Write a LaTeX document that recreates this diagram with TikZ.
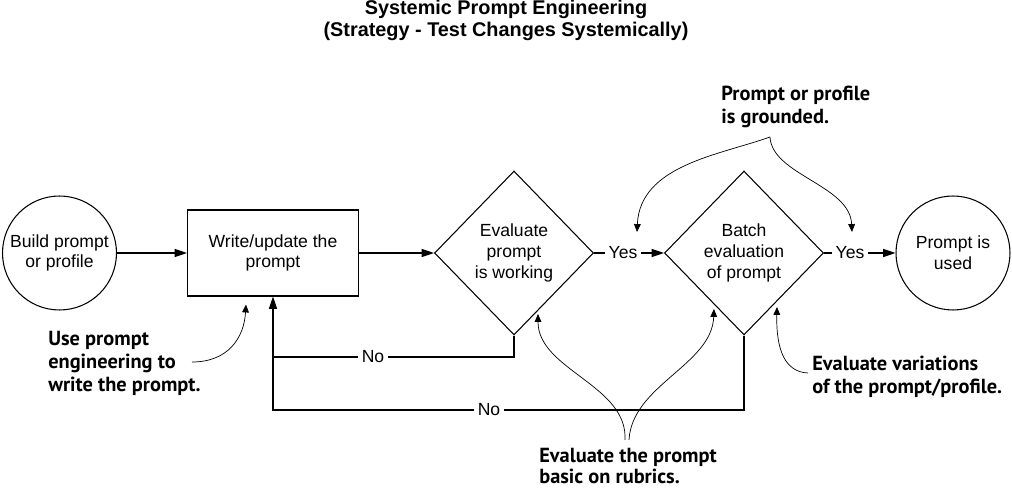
\documentclass[tikz,border=0pt]{standalone}
\usepackage{fontspec}
\setmainfont{Liberation Sans}
\newfontfamily\calloutfont{PT Sans}
\usetikzlibrary{positioning, arrows.meta, shapes.geometric, calc}

\begin{document}
\begin{tikzpicture}[
  x=0.02cm, y=-0.02cm,
  flow/.style={draw, semithick, font=\fontsize{10}{11.8}\selectfont, align=center},
  terminal/.style={flow, circle, minimum size=2.28cm, inner sep=0pt},
  process/.style={flow, rectangle, minimum width=3.42cm, minimum height=1.72cm},
  decision/.style={flow, diamond, minimum width=3.18cm, minimum height=3.28cm, inner sep=0pt},
  answer/.style={font=\fontsize{10}{11.8}\selectfont, inner sep=2pt},
  link/.style={semithick, -{Triangle[length=7pt, width=4.6pt]}},
  callout/.style={font=\calloutfont\bfseries\fontsize{11.6}{13}\selectfont,
                  align=left, anchor=north west, inner sep=0pt},
  pointer/.style={thin, -{Triangle[length=4.5pt, width=3.8pt]}},
]
  \useasboundingbox (0,0) rectangle (1012,489);

  \node[font=\bfseries\fontsize{11.3}{12.5}\selectfont, align=center] (title) at (506,20)
    {Systemic Prompt Engineering\\(Strategy - Test Changes Systemically)};

  \node[terminal] (build) at (59.5,253) {Build prompt\\or profile};
  \node[process] (write) at (273,253) {Write/update the\\prompt};
  \node[decision] (eval) at (514,253) {Evaluate\\prompt\\is working};
  \node[decision] (batch) at (744,253) {Batch\\evaluation\\of prompt};
  \node[terminal] (used) at (953,253) {Prompt is\\used};

  \node[answer] (yes1) at (623,253) {Yes};
  \node[answer] (yes2) at (850,253) {Yes};
  \node[answer] (no1) at (373,357) {No};
  \node[answer] (no2) at (489,410) {No};

  \draw[link] (build) -- (write);
  \draw[link] (write) -- (eval);
  \draw[semithick] (eval.east) -- (yes1);
  \draw[link] (yes1) -- (batch);
  \draw[semithick] (batch.east) -- (yes2);
  \draw[link] (yes2) -- (used);

  \coordinate (join) at (write.south |- no1);
  \draw[semithick] (eval.south) |- (no1);
  \draw[semithick] (no1) -- (join);
  \draw[semithick] (batch.south) |- (no2);
  \draw[link] (no2) -| (write.south);

  \node[callout] (usenote) at (48,331) {Use prompt\\engineering to\\write the prompt.};
  \node[callout] (groundnote) at (721,86) {Prompt or profile\\is grounded.};
  \node[callout] (varnote) at (812,356) {Evaluate variations\\of the prompt/profile.};
  \node[callout, font=\calloutfont\bfseries\fontsize{11.6}{12}\selectfont] (rubricnote) at (539,448)
    {Evaluate the prompt\\basic on rubrics.};

  \coordinate (usetail) at (192,362);
  \coordinate (usetip) at ($(write.south)+(-27,8)$);
  \draw[pointer] (usetail) .. controls (228,362) and (244,338) .. (usetip);

  \coordinate (groundtail) at (770,137);
  \coordinate (groundtipa) at ($(yes1)+(14,-21)$);
  \coordinate (groundtipb) at ($(yes2)+(2,-21)$);
  \draw[pointer] (groundtail) .. controls (720,155) and (640,165) .. (groundtipa);
  \draw[pointer] (groundtail) .. controls (772,175) and (850,185) .. (groundtipb);

  \coordinate (vartail) at (808,373);
  \coordinate (vartip) at (777,307);
  \draw[pointer] (vartail) .. controls (785,372) and (776,350) .. (vartip);

  \coordinate (rubrictaila) at (625,440);
  \coordinate (rubrictailb) at (629,440);
  \coordinate (rubrictipa) at (538,314);
  \coordinate (rubrictipb) at (714,309);
  \draw[pointer] (rubrictaila) .. controls (628,385) and (538,370) .. (rubrictipa);
  \draw[pointer] (rubrictailb) .. controls (632,385) and (712,365) .. (rubrictipb);
\end{tikzpicture}
\end{document}
